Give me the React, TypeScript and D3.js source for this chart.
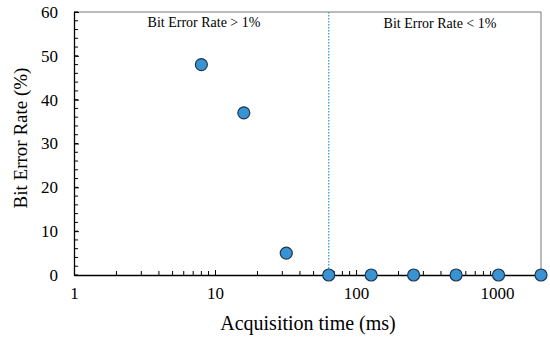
import React, { useRef, useEffect } from "react";
import * as d3 from "d3";

const width = 550;
const height = 338;

const acqTimes = [8, 16, 32, 64, 128, 256, 512, 1024, 2048];
const errorRates = [48, 37, 5, 0, 0, 0, 0, 0, 0];
const xTickLabels = [1, 10, 100, 1000];
const yTickLabels = [0, 10, 20, 30, 40, 50, 60];
const thresholdTime = 64;
const regionLabels = ["Bit Error Rate > 1%", "Bit Error Rate < 1%"];

const font = "Liberation Serif, Times New Roman, serif";

export default function App() {
  const ref = useRef<SVGSVGElement | null>(null);

  useEffect(() => {
    const svg = d3.select(ref.current);
    svg.selectAll("*").remove();

    const left = 74, right = 541, top = 12, bottom = 275;

    const x = d3.scaleLog().domain([1, 2048]).range([left, right]);
    const y = d3.scaleLinear().domain([0, 60]).range([bottom, top]);

    // frame (top/right grey)
    svg.append("line").attr("x1", left).attr("x2", right).attr("y1", top).attr("y2", top)
      .attr("stroke", "#777").attr("stroke-width", 1);
    svg.append("line").attr("x1", right).attr("x2", right).attr("y1", top).attr("y2", bottom)
      .attr("stroke", "#777").attr("stroke-width", 1);

    // x minor ticks
    const xMinor: number[] = [];
    for (let d = 1; d <= 1000; d *= 10) {
      for (let k = 2; k <= 9; k++) if (d * k <= 2048) xMinor.push(d * k);
    }
    svg.append("g").selectAll("line").data(xMinor).enter().append("line")
      .attr("x1", (d) => x(d)).attr("x2", (d) => x(d))
      .attr("y1", bottom).attr("y2", bottom - 4)
      .attr("stroke", "#000");

    // y minor ticks
    const yMinor = d3.range(0, 61, 2);
    svg.append("g").selectAll("line").data(yMinor).enter().append("line")
      .attr("x1", left).attr("x2", left + 4)
      .attr("y1", (d) => y(d)).attr("y2", (d) => y(d))
      .attr("stroke", "#000");

    // axes
    const xAxis = svg.append("g").attr("transform", `translate(0,${bottom})`)
      .call(d3.axisBottom(x).tickValues(xTickLabels).tickSizeInner(-5).tickSizeOuter(0)
        .tickPadding(12).tickFormat(d3.format("d")));
    xAxis.attr("font-family", font).attr("font-size", 17);
    xAxis.select(".domain").attr("stroke", "#000").attr("stroke-width", 1.3);
    xAxis.selectAll("text").attr("fill", "#000");

    const yAxis = svg.append("g").attr("transform", `translate(${left},0)`)
      .call(d3.axisLeft(y).tickValues(yTickLabels).tickSizeInner(-5).tickSizeOuter(0).tickPadding(16));
    yAxis.attr("font-family", font).attr("font-size", 17);
    yAxis.select(".domain").attr("stroke", "#000").attr("stroke-width", 1.3);
    yAxis.selectAll("text").attr("fill", "#000");

    // threshold dotted line
    svg.append("line")
      .attr("x1", x(thresholdTime)).attr("x2", x(thresholdTime))
      .attr("y1", top).attr("y2", bottom)
      .attr("stroke", "#3a9ae0").attr("stroke-width", 1.3)
      .attr("stroke-dasharray", "1.5,1.5");

    // region labels
    svg.append("text").attr("x", 204).attr("y", 27).attr("text-anchor", "middle")
      .attr("font-family", font).attr("font-size", 14).text(regionLabels[0]);
    svg.append("text").attr("x", 440).attr("y", 28).attr("text-anchor", "middle")
      .attr("font-family", font).attr("font-size", 14).text(regionLabels[1]);

    // points
    svg.append("g").selectAll("circle").data(acqTimes).enter().append("circle")
      .attr("cx", (d) => x(d))
      .attr("cy", (d, i) => y(errorRates[i]))
      .attr("r", 6)
      .attr("fill", "#3893d3")
      .attr("stroke", "#1f3550")
      .attr("stroke-width", 1.2);

    // axis titles
    svg.append("text").attr("x", 308).attr("y", 330).attr("text-anchor", "middle")
      .attr("font-family", font).attr("font-size", 20).text("Acquisition time (ms)");
    svg.append("text").attr("transform", `translate(27,138) rotate(-90)`)
      .attr("text-anchor", "middle")
      .attr("font-family", font).attr("font-size", 19).text("Bit Error Rate (%)");
  }, []);

  return (
    <svg ref={ref} width={width} height={height}
      style={{ position: "absolute", left: 0, top: 0, background: "#fff" }} />
  );
}
